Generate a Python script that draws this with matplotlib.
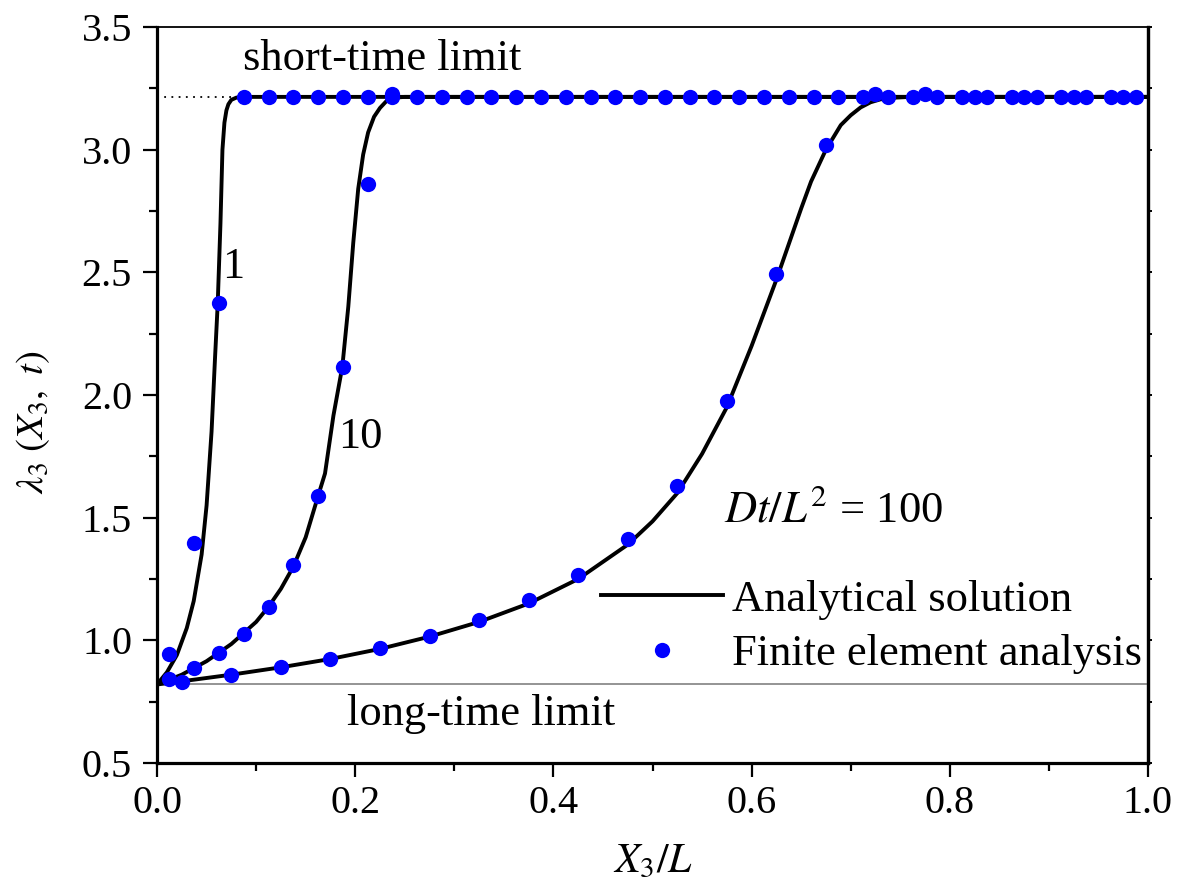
import matplotlib
matplotlib.use('Agg')
import matplotlib.pyplot as plt
from matplotlib.ticker import MultipleLocator, FormatStrFormatter

plt.rcParams['font.family'] = ['Liberation Serif', 'DejaVu Serif']
plt.rcParams['mathtext.fontset'] = 'stix'

# limits
short_limit = 3.215
long_limit = 0.82

# analytical solution curves (Dt/L^2 = 1, 10, 100)
x_an1 = [0.0, 0.01, 0.02, 0.03, 0.037, 0.045, 0.05, 0.055, 0.0585, 0.0612, 0.064, 0.066,
         0.068, 0.070, 0.072, 0.075, 0.080, 0.088, 1.0]
y_an1 = [0.82, 0.87, 0.94, 1.05, 1.16, 1.35, 1.55, 1.85, 2.15, 2.37, 2.70, 3.00,
         3.11, 3.16, 3.185, 3.203, 3.212, 3.215, 3.215]

x_an10 = [0.0, 0.025, 0.05, 0.075, 0.1, 0.1125, 0.125, 0.1375, 0.15, 0.1625, 0.1695, 0.178,
          0.187, 0.193, 0.198, 0.203, 0.208, 0.213, 0.219, 0.225, 0.232, 0.240, 0.25, 1.0]
y_an10 = [0.82, 0.86, 0.915, 0.985, 1.075, 1.137, 1.21, 1.30, 1.42, 1.588, 1.68, 1.916,
          2.116, 2.36, 2.62, 2.84, 2.98, 3.07, 3.134, 3.17, 3.20, 3.212, 3.215, 3.215]

x_an100 = [0.0, 0.025, 0.075, 0.125, 0.175, 0.225, 0.275, 0.325, 0.375, 0.425, 0.475, 0.5,
           0.525, 0.55, 0.575, 0.6, 0.625, 0.65, 0.66, 0.675, 0.69, 0.70, 0.71, 0.72, 0.73,
           0.745, 0.76, 1.0]
y_an100 = [0.82, 0.833, 0.86, 0.89, 0.924, 0.965, 1.015, 1.075, 1.15, 1.25, 1.39, 1.485,
           1.60, 1.76, 1.95, 2.20, 2.47, 2.76, 2.87, 3.00, 3.10, 3.14, 3.172, 3.193, 3.205,
           3.212, 3.215, 3.215]

# finite element results
x_fe1 = [0.0125, 0.0375, 0.0625, 0.0875, 0.1125, 0.1375, 0.1625, 0.1875, 0.2125, 0.2375,
         0.2625, 0.2875, 0.3125, 0.3375, 0.3625, 0.3875, 0.4125, 0.4375, 0.4625, 0.4875,
         0.5125, 0.5375, 0.5625, 0.5875, 0.6125, 0.6375, 0.6625, 0.6875, 0.7125, 0.7375,
         0.7625, 0.7875, 0.8125, 0.8375, 0.8625, 0.8875, 0.9125, 0.9375, 0.9625, 0.9875]
y_fe1 = [0.943, 1.395, 2.374] + [3.215] * 37

x_fe10 = [0.0125, 0.0375, 0.0625, 0.0875, 0.1125, 0.1375, 0.1625, 0.1875, 0.2125, 0.2375]
y_fe10 = [0.842, 0.888, 0.947, 1.027, 1.137, 1.307, 1.588, 2.116, 2.859, 3.225]

x_fe100 = [0.025, 0.075, 0.125, 0.175, 0.225, 0.275, 0.325, 0.375, 0.425, 0.475,
           0.525, 0.575, 0.625, 0.675, 0.725, 0.775, 0.825, 0.875, 0.925, 0.975]
y_fe100 = [0.831, 0.860, 0.891, 0.924, 0.968, 1.018, 1.082, 1.163, 1.268, 1.414,
           1.630, 1.974, 2.494, 3.020, 3.225, 3.225, 3.215, 3.215, 3.215, 3.215]

fig = plt.figure(figsize=(11.79, 8.90), dpi=100)
ax = fig.add_axes([0.1332, 0.1427, 0.8405, 0.827])

ax.plot([0, 1], [short_limit, short_limit], ls=(0, (1, 3)), color='black', lw=1.3)
ax.plot([0, 1], [long_limit, long_limit], color='#777777', lw=1.1)

ax.plot(x_an1, y_an1, color='black', lw=2.8, label='Analytical solution')
ax.plot(x_an10, y_an10, color='black', lw=2.8)
ax.plot(x_an100, y_an100, color='black', lw=2.8)

fe_style = dict(ls='none', marker='o', color='#0000ff', ms=11, mec='none')
ax.plot(x_fe1, y_fe1, label='Finite element analysis', **fe_style)
ax.plot(x_fe10, y_fe10, **fe_style)
ax.plot(x_fe100, y_fe100, **fe_style)

ax.set_xlim(0, 1)
ax.set_ylim(0.5, 3.5)
ax.xaxis.set_major_locator(MultipleLocator(0.2))
ax.xaxis.set_minor_locator(MultipleLocator(0.1))
ax.yaxis.set_major_locator(MultipleLocator(0.5))
ax.yaxis.set_minor_locator(MultipleLocator(0.25))
ax.xaxis.set_major_formatter(FormatStrFormatter('%.1f'))
ax.yaxis.set_major_formatter(FormatStrFormatter('%.1f'))

ax.tick_params(axis='both', which='major', direction='out', length=10, width=1.6, labelsize=29)
ax.tick_params(axis='both', which='minor', direction='out', length=6, width=1.6)
ax.tick_params(axis='x', which='major', pad=6)
ax.tick_params(axis='y', which='major', pad=8)
for side in ['left', 'bottom', 'right']:
    ax.spines[side].set_linewidth(2.3)
ax.spines['top'].set_linewidth(1.3)

# short outward ticks on the right side
sec = ax.secondary_yaxis('right')
sec.yaxis.set_major_locator(MultipleLocator(0.25))
sec.tick_params(direction='out', length=3, width=1.4, labelright=False)
sec.spines['right'].set_linewidth(2.3)

ax.set_xlabel(r'$X_3/L$', fontsize=30)
ax.xaxis.set_label_coords(0.5, -0.108)
ax.set_ylabel(r'$\lambda_3\ (X_3,\ t)$', fontsize=28)
ax.yaxis.set_label_coords(-0.106, 0.463)

ax.text(0.087, 3.37, 'short-time limit', fontsize=32, va='center', ha='left')
ax.text(0.066, 2.52, '1', fontsize=32, va='center', ha='left')
ax.text(0.183, 1.83, '10', fontsize=32, va='center', ha='left')
ax.text(0.572, 1.53, r'$Dt/L^2$ = 100', fontsize=32, va='center', ha='left')
ax.text(0.192, 0.70, 'long-time limit', fontsize=32, va='center', ha='left')

ax.legend(loc='upper left', bbox_to_anchor=(0.448, 0.249), frameon=False, fontsize=32,
          handlelength=2.75, handletextpad=0.2, labelspacing=0.32,
          borderpad=0, borderaxespad=0)

fig.savefig('out.png', dpi=100)
